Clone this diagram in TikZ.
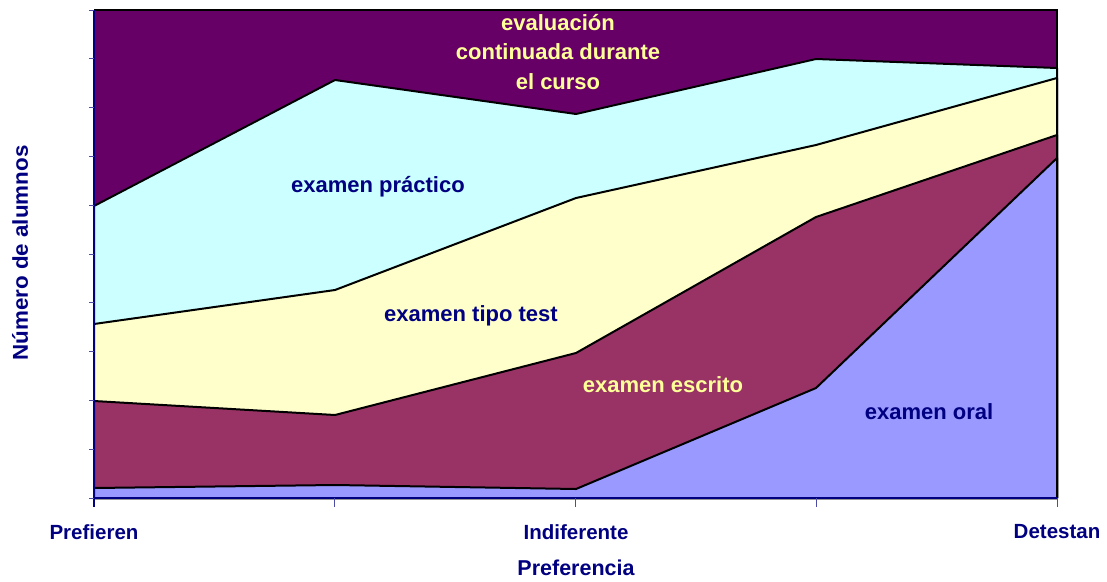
\documentclass[tikz,border=0pt]{standalone}
\usepackage{fontspec}
\setmainfont{Liberation Sans}
\usetikzlibrary{positioning}

\definecolor{navy}{HTML}{000080}
\definecolor{plum}{HTML}{660066}
\definecolor{paleaqua}{HTML}{CCFFFF}
\definecolor{paleyellow}{HTML}{FFFFCC}
\definecolor{wine}{HTML}{993366}
\definecolor{lavender}{HTML}{9999FF}
\definecolor{lighttext}{HTML}{FFFF99}

\begin{document}
\begin{tikzpicture}[x=1pt, y=-1pt,
		area/.style={
		% The border:
		draw=black,
		line width=2pt,
		line join=round
		},
		region/.style={
		% The font:
		font=\fontsize{22}{29.5}\selectfont\bfseries,
		align=center,
		inner sep=0pt
		},
		catlabel/.style={
		% The font:
		font=\fontsize{20.5}{24}\selectfont\bfseries,
		text=navy,
		inner sep=0pt
		},
		axistitle/.style={
		font=\fontsize{21.5}{26}\selectfont\bfseries,
		text=navy,
		inner sep=0pt
		},
		]
    \useasboundingbox (0,0) rectangle (1107,581);
    % evaluación continuada (whole plot)
    \fill [plum] (94,10) rectangle (1057,498);
    % examen práctico
    \filldraw [area, fill=paleaqua] (94,498) -- (94,206) -- (335,80) -- (576,114) -- (816,59) -- (1057,68) -- (1057,498) -- cycle;
    % examen tipo test
    \filldraw [area, fill=paleyellow] (94,498) -- (94,324) -- (335,290) -- (576,198) -- (816,145) -- (1057,78) -- (1057,498) -- cycle;
    % examen escrito
    \filldraw [area, fill=wine] (94,498) -- (94,401) -- (335,415) -- (576,353) -- (816,217) -- (1057,135) -- (1057,498) -- cycle;
    % examen oral
    \filldraw [area, fill=lavender] (94,498) -- (94,488) -- (335,485) -- (576,489) -- (816,388) -- (1057,158) -- (1057,498) -- cycle;
    % frame
    \draw [black, line width=2pt] (94,10) -- (1057,10) -- (1057,498);
    % axes
    \draw [navy, line width=1.3pt] (94,10) -- (94,507);
    \draw [navy, line width=1.3pt] (94,498) -- (1057,498);
    \foreach \i in {0,...,10}
        \draw [navy!70, line width=1pt] (89,{10+\i*48.8}) -- (94,{10+\i*48.8});
    \foreach \i in {1,...,4}
        \draw [navy!70, line width=1pt] ({94+\i*240.75},498) -- ++(0,9);

    % region labels
    \node [region, text=lighttext] (evaluacion) at (558,52) {evaluación\\continuada durante\\el curso};
    \node [region, text=navy] (practico) at (378,187) {examen práctico};
    \node [region, text=navy] (test) at (471,316) {examen tipo test};
    \node [region, text=lighttext] (escrito) at (663,385) {examen escrito};
    \node [region, text=navy] (oral) at (929,412) {examen oral};

    % categories
    \node [catlabel] (prefieren) at (94,532) {Prefieren};
    \node [catlabel] (indiferente) at (576,532) {Indiferente};
    \node [catlabel] (detestan) at (1057,532) {Detestan};
    \node [axistitle, below=20pt of indiferente] (preferencia) {Preferencia};
    \node [axistitle, rotate=90] (alumnos) at (20,253) {\scalebox{1.04}[1]{Número de alumnos}};
\end{tikzpicture}
\end{document}
